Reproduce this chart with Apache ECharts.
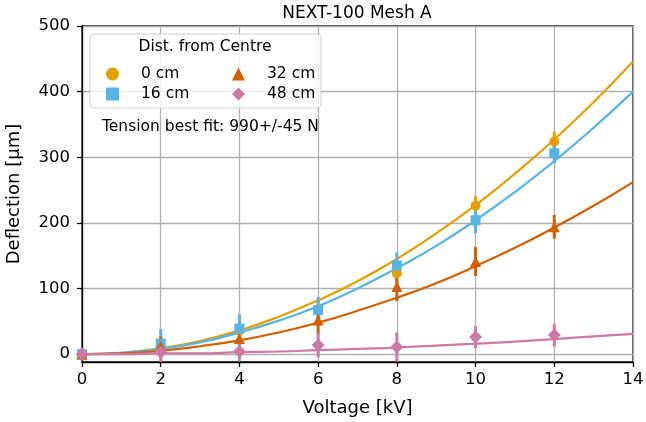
<!DOCTYPE html>
<html>
<head>
<meta charset="utf-8">
<script src="https://cdn.jsdelivr.net/npm/echarts@6/dist/echarts.min.js"></script>
<style>
  html, body { margin: 0; padding: 0; background: #fff; }
  #container { width: 646px; height: 422px; }
</style>
</head>
<body>
<div id="container"></div>
<script>
// measured points (kV -> deflection in um)
var volts = [0, 2, 4, 6, 8, 10, 12];
var d0 = [0, 10, 36, 68, 123, 226, 324];
var e0 = [8, 15, 15, 15, 15, 15, 15];
var d16 = [0, 16, 39, 67, 135, 204, 306];
var e16 = [8, 22, 22, 20, 20, 20, 15];
var d32 = [0, 12, 24, 52, 103, 141, 194];
var e32 = [8, 15, 15, 20, 22, 22, 18];
var d48 = [0, 3, 4, 14, 11, 26, 29];
var e48 = [10, 15, 15, 19, 22, 17, 17];

// best fit curves at each kV
var fitVolts = [0, 1, 2, 3, 4, 5, 6, 7, 8, 9, 10, 11, 12, 13, 14];
var fit0 = [0, 2, 9, 20, 36, 57, 82, 111, 145, 184, 227, 275, 327, 384, 446];
var fit16 = [0, 2, 8, 18, 33, 51, 73, 100, 131, 165, 204, 247, 294, 345, 400];
var fit32 = [0, 1, 5, 12, 21, 33, 48, 66, 86, 108, 134, 162, 193, 226, 262];
var fit48 = [0, 0, 1, 1, 3, 4, 6, 8, 10, 13, 16, 19, 23, 27, 31];

var yTicks = [0, 100, 200, 300, 400, 500];
var names = ['0 cm', '16 cm', '32 cm', '48 cm'];
var colors = ['#E69F00', '#56B4E9', '#D55E00', '#CC79A7'];
var symbols = ['circle', 'rect', 'triangle', 'diamond'];
var sizes = [10, 10, 11, 13];

var pts = [d0, d16, d32, d48];
var errs = [e0, e16, e32, e48];
var fits = [fit0, fit16, fit32, fit48];

var font = 'DejaVu Sans';

function zip(xs, ys) {
  return xs.map((x, i) => [x, ys[i]]);
}

var series = [];
for (let k = 0; k < 4; k++) {
  series.push({
    type: 'line',
    data: zip(fitVolts, fits[k]),
    smooth: true,
    symbol: 'none',
    clip: false,
    lineStyle: { color: colors[k], width: 2.2 },
    z: 2,
    silent: true
  });
}
for (let k = 0; k < 4; k++) {
  series.push({
    type: 'custom',
    data: volts.map((v, i) => [v, pts[k][i], errs[k][i]]),
    encode: { x: 0, y: 1 },
    z: 3,
    silent: true,
    renderItem: function (params, api) {
      var x = api.value(0), y = api.value(1), e = api.value(2);
      var lo = api.coord([x, y - e]);
      var hi = api.coord([x, y + e]);
      return {
        type: 'line',
        shape: { x1: lo[0], y1: lo[1], x2: hi[0], y2: hi[1] },
        style: { stroke: colors[k], lineWidth: 3 }
      };
    }
  });
}
for (let k = 0; k < 4; k++) {
  series.push({
    name: names[k],
    type: 'scatter',
    data: zip(volts, pts[k]),
    symbol: symbols[k],
    symbolSize: sizes[k],
    itemStyle: { color: colors[k], opacity: 1 },
    clip: false,
    z: 4
  });
}

var dom = document.getElementById('container');
var myChart = echarts.init(dom);

var legendText = { fontFamily: font, fontSize: 15.5, color: '#000', padding: [0, 0, 0, 17] };

var option = {
  animation: false,
  title: {
    text: 'NEXT-100 Mesh A',
    left: 352,
    textAlign: 'center',
    top: 0,
    textStyle: { fontFamily: font, fontSize: 17, fontWeight: 'normal', color: '#000' }
  },
  grid: {
    left: 82, right: 13, top: 26, bottom: 60,
    show: true, borderColor: '#000', borderWidth: 1.3,
    containLabel: false,
    outerBoundsMode: 'none'
  },
  graphic: [
    {
      type: 'rect',
      shape: { x: 90, y: 34, width: 231, height: 74, r: 4 },
      style: { fill: 'rgba(255,255,255,0.8)', stroke: '#d0d0d0', lineWidth: 1 },
      z: 10
    },
    {
      type: 'text',
      x: 205, y: 47,
      style: {
        text: 'Dist. from Centre', font: '15.5px "DejaVu Sans"', fill: '#000',
        textAlign: 'center', textVerticalAlign: 'middle'
      },
      z: 11
    },
    {
      type: 'text',
      x: 102, y: 127,
      style: {
        text: 'Tension best fit: 990+/-45 N', font: '15.5px "DejaVu Sans"', fill: '#000',
        textAlign: 'left', textVerticalAlign: 'middle'
      },
      z: 11
    }
  ],
  legend: [
    {
      data: [{ name: '0 cm', icon: 'circle' }, { name: '16 cm', icon: 'rect' }],
      orient: 'vertical',
      left: 101, top: 61,
      itemWidth: 13, itemHeight: 13, itemGap: 4,
      selectedMode: false,
      z: 12,
      textStyle: legendText
    },
    {
      data: [{ name: '32 cm', icon: 'triangle' }, { name: '48 cm', icon: 'diamond' }],
      orient: 'vertical',
      left: 227, top: 61,
      itemWidth: 13, itemHeight: 13, itemGap: 4,
      selectedMode: false,
      z: 12,
      textStyle: legendText
    }
  ],
  xAxis: {
    type: 'value',
    min: 0, max: 14, interval: 2,
    name: 'Voltage [kV]',
    nameLocation: 'middle',
    nameGap: 37,
    nameTextStyle: { fontFamily: font, fontSize: 18, color: '#000' },
    axisLine: { onZero: false, lineStyle: { color: '#000', width: 1.3 } },
    axisTick: { show: true, length: 5, lineStyle: { color: '#000', width: 1.3 } },
    axisLabel: { fontFamily: font, fontSize: 16.5, color: '#000', margin: 9 },
    splitLine: { show: true, lineStyle: { color: '#b0b0b0', width: 1.3 } }
  },
  yAxis: {
    type: 'value',
    min: -12, max: 500,
    name: 'Deflection [μm]',
    nameLocation: 'middle',
    nameGap: 59,
    nameTextStyle: { fontFamily: font, fontSize: 18, color: '#000' },
    axisLine: { show: true, onZero: false, lineStyle: { color: '#000', width: 1.3 } },
    axisTick: { show: true, length: 5, customValues: yTicks, lineStyle: { color: '#000', width: 1.3 } },
    axisLabel: { fontFamily: font, fontSize: 16.5, color: '#000', margin: 12, customValues: yTicks },
    splitLine: { show: true, lineStyle: { color: '#b0b0b0', width: 1.3 } }
  },
  series: series
};

myChart.setOption(option);
</script>
</body>
</html>
